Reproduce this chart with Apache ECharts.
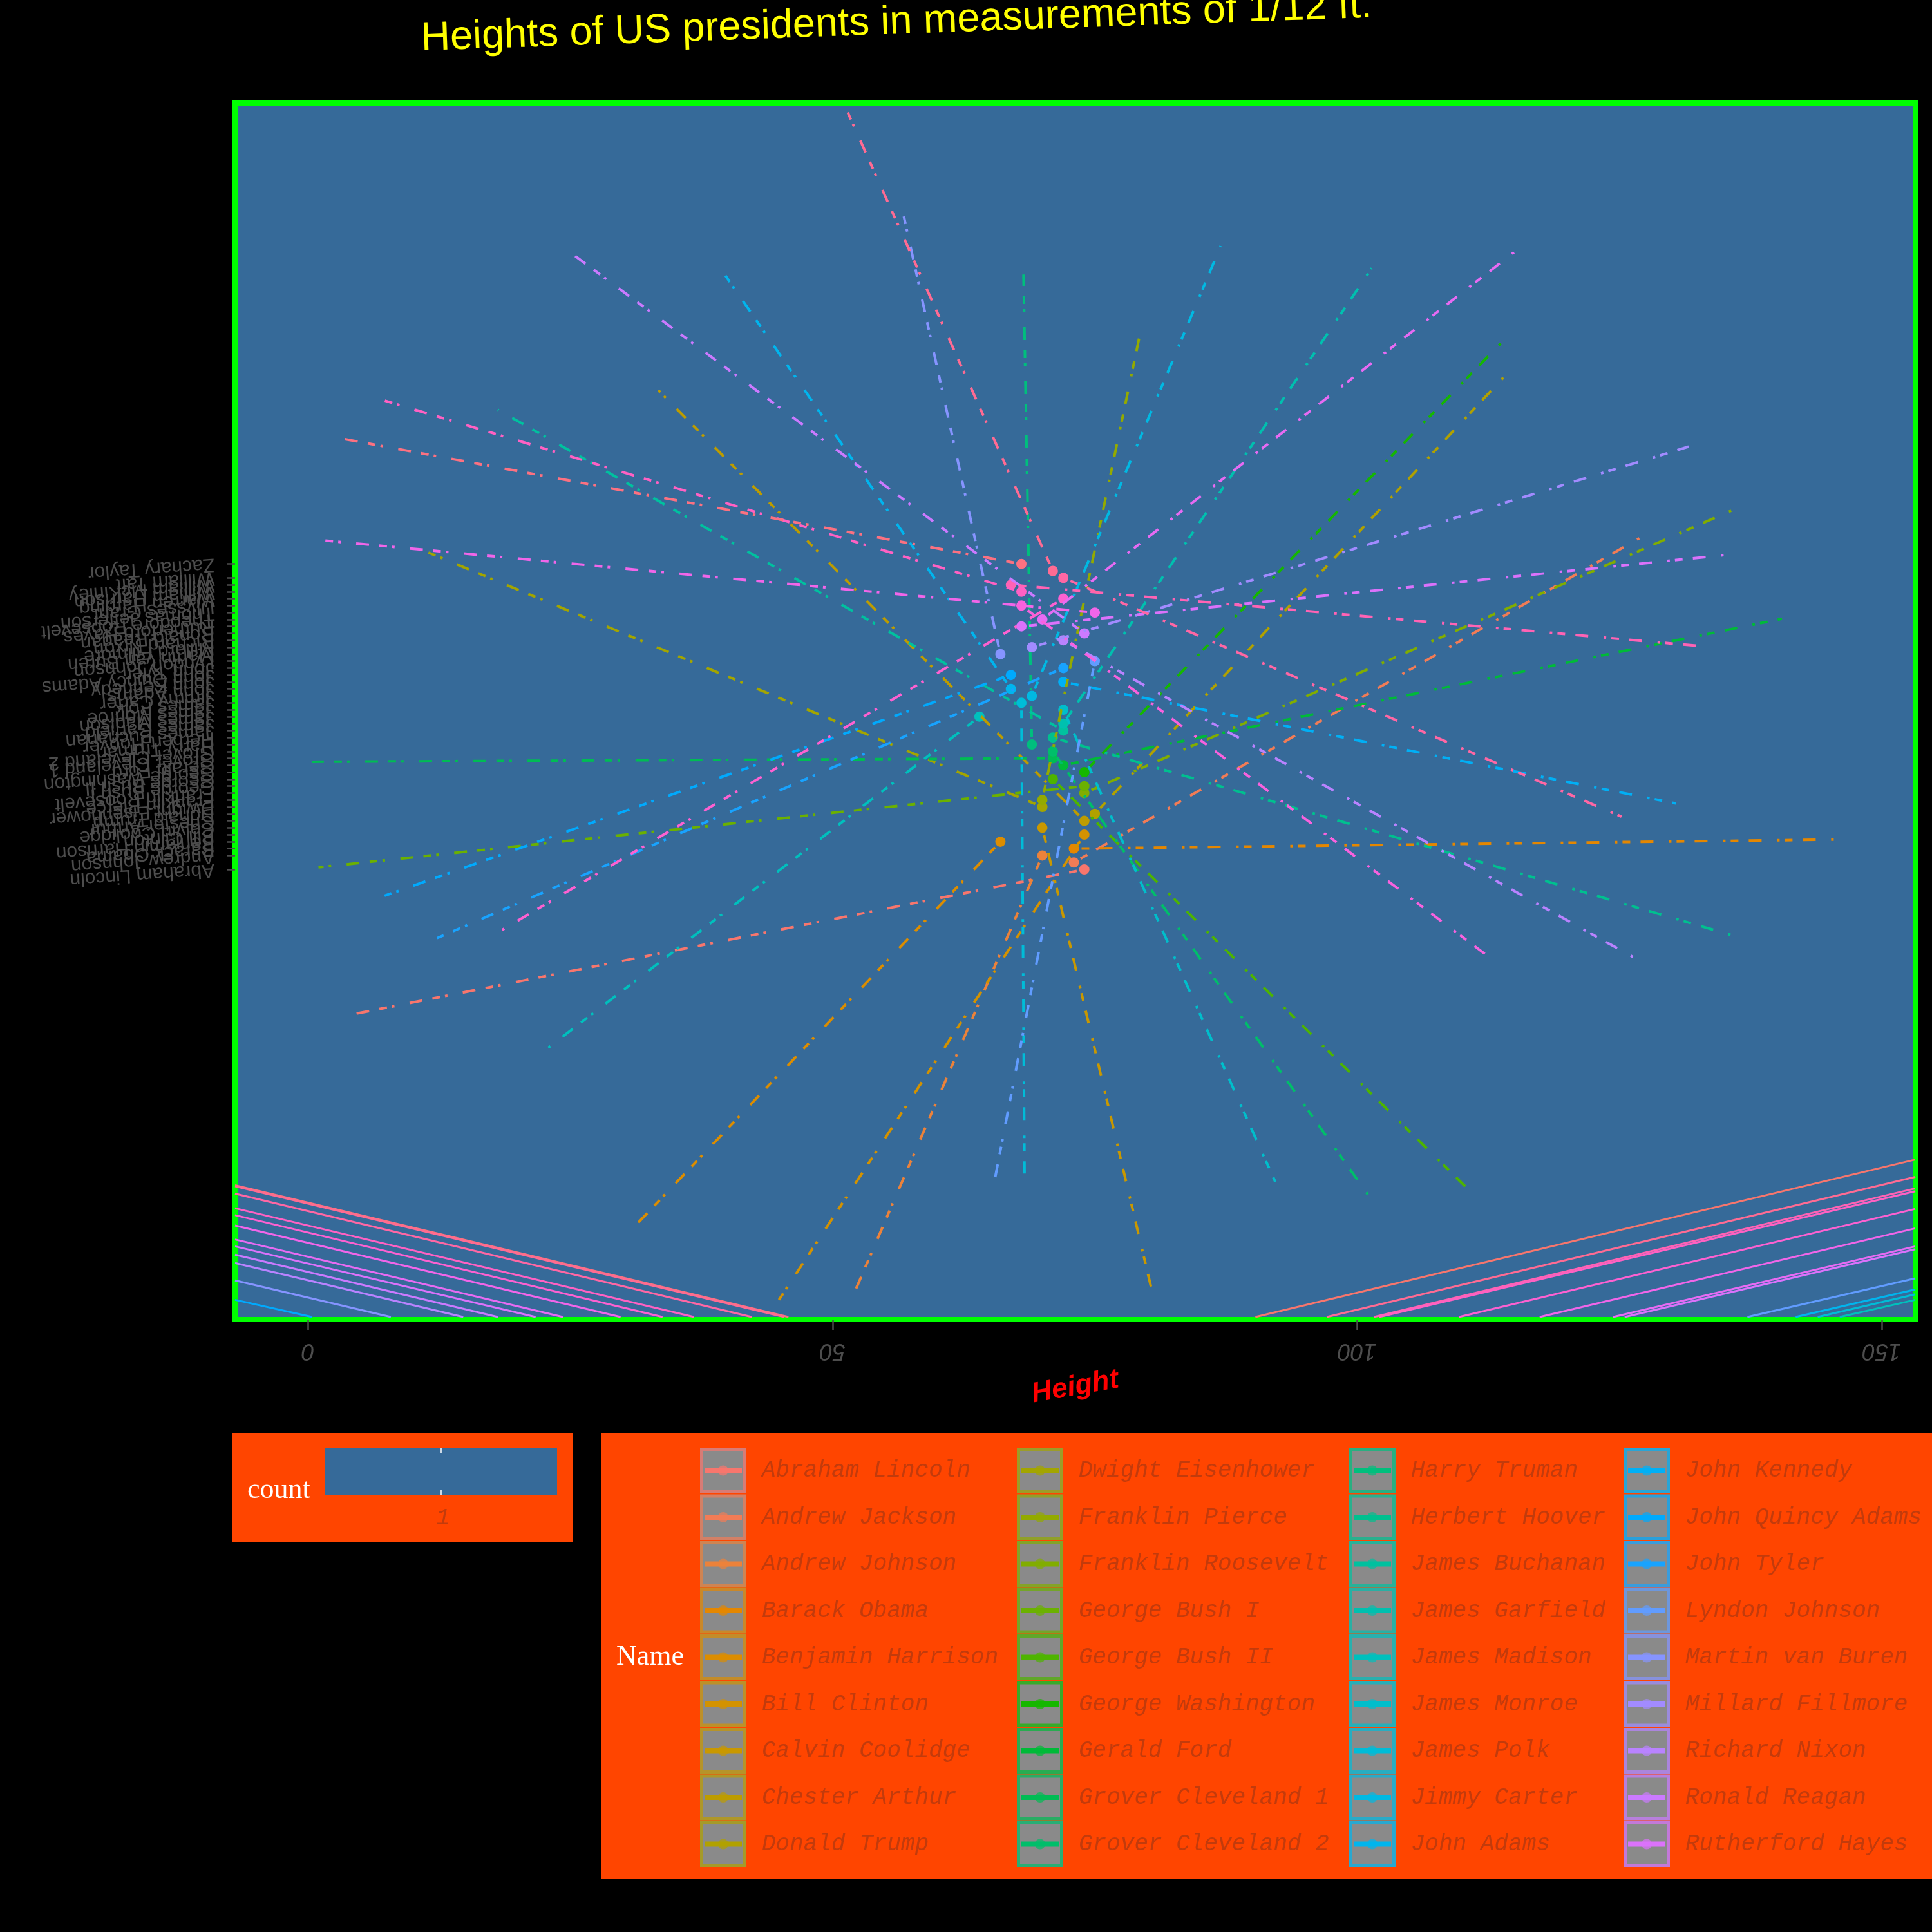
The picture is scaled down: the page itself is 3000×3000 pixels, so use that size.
<!DOCTYPE html>
<html>
<head>
<meta charset="utf-8">
<script src="https://cdn.jsdelivr.net/npm/echarts@6/dist/echarts.min.js"></script>
<style>
html, body { margin: 0; padding: 0; background: #000; }
#chart { width: 3000px; height: 3000px; }
</style>
</head>
<body>
<div id="chart"></div>
<script>
var presidents = ['Abraham Lincoln', 'Andrew Jackson', 'Andrew Johnson', 'Barack Obama', 'Benjamin Harrison',
  'Bill Clinton', 'Calvin Coolidge', 'Chester Arthur', 'Donald Trump', 'Dwight Eisenhower', 'Franklin Pierce',
  'Franklin Roosevelt', 'George Bush I', 'George Bush II', 'George Washington', 'Gerald Ford', 'Grover Cleveland 1',
  'Grover Cleveland 2', 'Harry Truman', 'Herbert Hoover', 'James Buchanan', 'James Garfield', 'James Madison',
  'James Monroe', 'James Polk', 'Jimmy Carter', 'John Adams', 'John Kennedy', 'John Quincy Adams', 'John Tyler',
  'Lyndon Johnson', 'Martin van Buren', 'Millard Fillmore', 'Richard Nixon', 'Ronald Reagan', 'Rutherford Hayes',
  'Theodore Roosevelt', 'Thomas Jefferson', 'Ulysses Grant', 'Warren Harding', 'William Harrison',
  'William McKinley', 'William Taft', 'Woodrow Wilson', 'Zachary Taylor'];

// heights in inches
var heights = [74, 73, 70, 73, 66, 74, 70, 74, 75, 70, 70, 74, 74, 71, 74, 72, 71, 71, 69, 71, 72, 72, 64, 72, 68,
  69, 67, 72, 67, 72, 75, 66, 69, 72, 74, 68, 70, 75, 68, 72, 68, 67, 72, 71, 68];

// where each dot-dash spoke ends (x = height units, y = position on the name axis)
var spokeEndHeight = [3.5, 127.0, 51.7, 145.9, 30.9, 44.5, 80.6, 33.4, 114.1, 10.9, 79.4, 135.7, 1.0, 110.4, 113.9,
  140.5, 0.4, 101.2, 68.2, 136.0, 18.1, 101.4, 22.8, 92.2, 68.3, 87.0, 39.3, 130.4, 7.3, 12.3, 65.5, 56.6, 131.6,
  126.4, 24.8, 135.2, 115.3, 1.4, 112.3, 18.3, 6.7, 132.5, 125.2, 51.4, 2.7];
var spokeEndRank = [-20.1, 48.8, -61.3, 5.3, -50.8, -61.9, -60.7, 70.0, 72.1, 47.0, 78.8, 52.7, 1.3, -44.8, 77.1,
  37.1, 16.5, -46.2, 86.7, -8.6, 67.2, 87.6, -24.8, -44.0, -42.8, 90.8, 87.6, 10.5, -2.8, -8.9, -43.4, 96.4, 61.9,
  -11.7, 90.1, 46.3, 90.3, 48.4, -11.3, -7.9, 68.8, 33.2, 8.6, 110.2, 63.2];

// solid lines in the lower left corner: rank at the left edge, height where they leave the bottom
var leftLineNames = ['Zachary Taylor', 'Woodrow Wilson', 'William Taft', 'William Harrison', 'Warren Harding',
  'Thomas Jefferson', 'Theodore Roosevelt', 'Rutherford Hayes', 'Ronald Reagan', 'Richard Nixon',
  'Martin van Buren', 'John Quincy Adams'];
var leftLineStartRank = [-44.5, -44.65, -45.7, -47.8, -48.8, -50.3, -52.3, -53.3, -54.5, -55.7, -58.2, -61.0];
var leftLineEndHeight = [45.8, 45.4, 42.3, 36.8, 33.8, 29.8, 24.3, 21.7, 18.1, 14.8, 7.9, 0.4];

// solid lines in the lower right corner: height where they leave the bottom, rank at the right edge
var rightLineNames = ['Abraham Lincoln', 'Woodrow Wilson', 'William McKinley', 'William Harrison', 'Warren Harding',
  'Thomas Jefferson', 'Theodore Roosevelt', 'Rutherford Hayes', 'Lyndon Johnson', 'John Adams', 'James Polk',
  'James Madison'];
var rightLineStartHeight = [90.3, 97.1, 101.6, 102.1, 109.7, 117.4, 124.4, 125.5, 137.2, 141.8, 143.9, 146.0];
var rightLineEndRank = [-40.8, -43.3, -44.95, -45.35, -47.9, -50.7, -53.3, -53.7, -57.9, -59.5, -60.2, -61.0];

var heightTicks = [0, 50, 100, 150];
var countLevels = ['1'];

// ggplot style hue palette
function hcl(h, c, l) {
  var hr = h * Math.PI / 180;
  var U = c * Math.cos(hr), V = c * Math.sin(hr);
  var Y = Math.pow((l + 16) / 116, 3);
  var u = U / (13 * l) + 0.1978398, v = V / (13 * l) + 0.4683363;
  var X = Y * 9 * u / (4 * v);
  var Z = Y * (12 - 3 * u - 20 * v) / (4 * v);
  var rgb = [3.240479 * X - 1.537150 * Y - 0.498535 * Z,
    -0.969256 * X + 1.875992 * Y + 0.041556 * Z,
    0.055648 * X - 0.204043 * Y + 1.057311 * Z];
  return '#' + rgb.map(function (k) {
    k = k <= 0.0031308 ? 12.92 * k : 1.055 * Math.pow(k, 1 / 2.4) - 0.055;
    k = Math.round(Math.max(0, Math.min(1, k)) * 255);
    return (k < 16 ? '0' : '') + k.toString(16);
  }).join('');
}
function mix(a, b, t) {
  var pa = [1, 3, 5].map(function (i) { return parseInt(a.substr(i, 2), 16); });
  var pb = [1, 3, 5].map(function (i) { return parseInt(b.substr(i, 2), 16); });
  return 'rgb(' + pa.map(function (x, i) { return Math.round(x * t + pb[i] * (1 - t)); }).join(',') + ')';
}
var colors = presidents.map(function (_, i) { return hcl(15 + 360 * i / presidents.length, 100, 65); });
function colorOf(name) { return colors[presidents.indexOf(name)]; }

var xMin = -6.95, xMax = 153.2, yMin = -63.84, yMax = 111.39, yBottom = -63.47;
var dotDash = [4, 8, 12, 16, 20, 24];
var legendText = '#C23B0C';
var rankTicks = presidents.map(function (_, i) { return i + 1; });

var series = [];
series.push({
  type: 'scatter',
  symbolSize: 16,
  z: 2,
  data: presidents.map(function (n, i) {
    return { name: n, value: [heights[i], i + 1], itemStyle: { color: colors[i], opacity: 1 } };
  })
});
presidents.forEach(function (n, i) {
  series.push({
    type: 'line', name: n, symbol: 'none', silent: true, z: 3,
    data: [[heights[i], i + 1], [spokeEndHeight[i], spokeEndRank[i]]],
    lineStyle: { color: colors[i], width: 4, type: dotDash, cap: 'butt' }
  });
});
leftLineNames.forEach(function (n, i) {
  series.push({
    type: 'line', name: n, symbol: 'none', silent: true, z: 2,
    data: [[xMin, leftLineStartRank[i]], [leftLineEndHeight[i], yBottom]],
    lineStyle: { color: colorOf(n), width: 3 }
  });
});
rightLineNames.forEach(function (n, i) {
  series.push({
    type: 'line', name: n, symbol: 'none', silent: true, z: 2,
    data: [[rightLineStartHeight[i], yBottom], [xMax, rightLineEndRank[i]]],
    lineStyle: { color: colorOf(n), width: 3 }
  });
});

// legends and title drawn as graphics
var graphics = [];
graphics.push({
  type: 'text', x: 1392, y: 35, rotation: 2 * Math.PI / 180, z: 10,
  style: { text: 'Heights of US presidents in measurements of 1/12 ft.', font: '63px "Liberation Sans"',
    fill: '#FFFF00', align: 'center', verticalAlign: 'middle', textAlign: 'center', textVerticalAlign: 'middle' }
});
// count legend
graphics.push({ type: 'rect', shape: { x: 360, y: 2225, width: 529, height: 170 }, style: { fill: '#FF4500' } });
graphics.push({ type: 'text', x: 384, y: 2314, style: { text: 'count', font: '44px "Liberation Serif"', fill: '#FFFFFF',
  align: 'left', verticalAlign: 'middle', textAlign: 'left', textVerticalAlign: 'middle' } });
graphics.push({ type: 'rect', shape: { x: 505, y: 2249, width: 360, height: 72 }, style: { fill: '#366A99' } });
graphics.push({ type: 'line', shape: { x1: 685, y1: 2249, x2: 685, y2: 2256 }, style: { stroke: '#FFFFFF', lineWidth: 1.5 } });
graphics.push({ type: 'line', shape: { x1: 685, y1: 2314, x2: 685, y2: 2321 }, style: { stroke: '#FFFFFF', lineWidth: 1.5 } });
countLevels.forEach(function (t) {
  graphics.push({ type: 'text', x: 688, y: 2357, style: { text: t, font: 'italic 36px "Liberation Mono"', fill: legendText,
    align: 'center', verticalAlign: 'middle', textAlign: 'center', textVerticalAlign: 'middle' } });
});
// Name legend
graphics.push({ type: 'rect', shape: { x: 934, y: 2225, width: 2100, height: 692 }, style: { fill: '#FF4500' } });
graphics.push({ type: 'text', x: 957, y: 2573, style: { text: 'Name', font: '44px "Liberation Serif"', fill: '#FFFFFF',
  align: 'left', verticalAlign: 'middle', textAlign: 'left', textVerticalAlign: 'middle' } });
var colX = [1087, 1579, 2095, 2521, 3013];
presidents.forEach(function (n, i) {
  var kx = colX[Math.floor(i / 9)], ky = 2248 + (i % 9) * 72.5, cy = ky + 35.5;
  graphics.push({ type: 'rect', shape: { x: kx + 2.5, y: ky + 2.5, width: 67, height: 66 },
    style: { fill: '#8A8A8A', stroke: mix(colors[i], '#8A8A8A', 0.7), lineWidth: 5 } });
  graphics.push({ type: 'circle', shape: { cx: kx + 36, cy: cy, r: 8 }, style: { fill: colors[i], opacity: 0.7 } });
  graphics.push({ type: 'line', shape: { x1: kx + 7, y1: cy, x2: kx + 65, y2: cy }, style: { stroke: colors[i], lineWidth: 8 } });
  graphics.push({ type: 'text', x: kx + 96, y: cy, style: { text: n, font: 'italic 36px "Liberation Mono"', fill: legendText,
    align: 'left', verticalAlign: 'middle', textAlign: 'left', textVerticalAlign: 'middle' } });
});

var chart = echarts.init(document.getElementById('chart'));
chart.setOption({
  backgroundColor: '#000000',
  animation: false,
  textStyle: { fontFamily: '"Liberation Sans", Arial, sans-serif' },
  grid: {
    left: 365, right: 26, top: 160, bottom: 951,
    show: true, backgroundColor: '#366A99', borderColor: '#00FF00', borderWidth: 8
  },
  xAxis: {
    type: 'value', min: xMin, max: xMax,
    name: 'Height', nameLocation: 'middle', nameGap: 96, nameRotate: 10,
    nameTextStyle: { color: '#FF0000', fontSize: 44, fontWeight: 'bold', fontStyle: 'italic',
      fontFamily: '"Liberation Sans"', align: 'center', verticalAlign: 'middle' },
    axisLine: { show: false, onZero: false },
    splitLine: { show: false },
    axisTick: { show: true, customValues: heightTicks, length: 16, lineStyle: { color: '#4D4D4D', width: 2.5 } },
    axisLabel: {
      customValues: heightTicks, rotate: 180, margin: 30, align: 'center', verticalAlign: 'bottom',
      showMinLabel: true, showMaxLabel: true,
      color: '#4D4D4D', fontSize: 36, fontStyle: 'italic', fontFamily: '"Liberation Sans"'
    }
  },
  yAxis: {
    type: 'value', min: yMin, max: yMax,
    axisLine: { show: false, onZero: false },
    splitLine: { show: false },
    axisTick: { show: true, customValues: rankTicks, length: 12, lineStyle: { color: '#4D4D4D', width: 2.5 } },
    axisLabel: {
      customValues: rankTicks,
      formatter: function (v) { return presidents[Math.round(v) - 1] || ''; },
      rotate: 184, margin: 32, align: 'left', verticalAlign: 'middle',
      showMinLabel: true, showMaxLabel: true, hideOverlap: false,
      color: '#4D4D4D', fontSize: 30, fontFamily: '"Liberation Sans"'
    }
  },
  graphic: graphics,
  series: series
});
</script>
</body>
</html>
